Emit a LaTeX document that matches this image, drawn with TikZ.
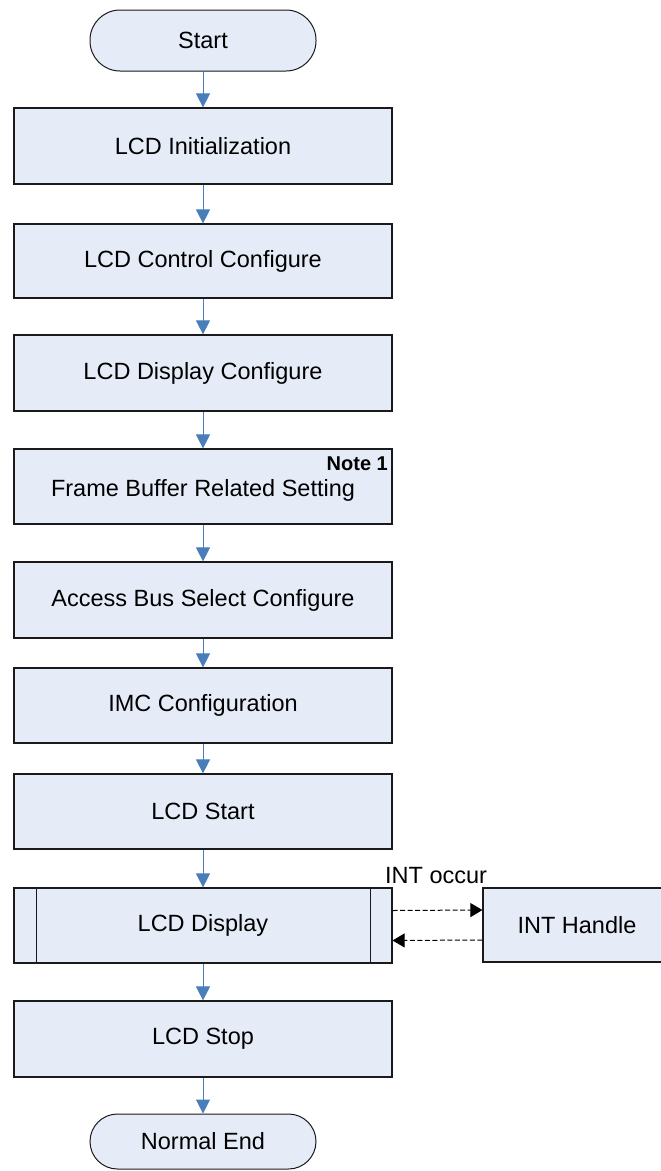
\documentclass[tikz,border=0pt]{standalone}
\usepackage{fontspec}
\setmainfont{Liberation Sans}
\usetikzlibrary{arrows.meta}
\definecolor{boxfill}{HTML}{E6ECF7}
\definecolor{flowblue}{HTML}{4A7EBB}
\definecolor{boxline}{HTML}{1A1A1A}
\begin{document}
\begin{tikzpicture}[x=1pt,y=-1pt,
 every node/.style={font=\fontsize{23.5}{28}\selectfont},
 proc/.style={draw=boxline,fill=boxfill,line width=1.2pt,minimum width=378pt,inner sep=0pt},
 term/.style={draw=boxline,fill=boxfill,line width=1pt,minimum width=226pt,minimum height=61pt,rounded corners=30pt,inner sep=0pt},
 flow/.style={draw=flowblue,line width=1pt,-{Triangle[width=14pt,length=14pt]}},
 dasharrow/.style={draw=black,line width=1pt,dash pattern=on 5pt off 2.5pt,-{Triangle[width=14pt,length=12pt]}}]
\useasboundingbox (0,0) rectangle (661,1171);
\fill[white] (0,0) rectangle (661,1171);

\node[term] (start) at (203,40.5) {Start};
\node[proc,minimum height=76pt] (init) at (203,146) {LCD Initialization};
\node[proc,minimum height=74pt] (ctrl) at (203,261) {LCD Control Configure};
\node[proc,minimum height=76pt] (dconf) at (203,373) {LCD Display Configure};
\node[proc,minimum height=75pt] (fb) at (203,486.5) {};
\node (fbtext) at (203,490) {Frame Buffer Related Setting};
\node[font=\bfseries\fontsize{20}{24}\selectfont,anchor=east,inner sep=0pt] (note) at (388,464) {Note 1};
\node[proc,minimum height=76pt] (bus) at (203,600) {Access Bus Select Configure};
\node[proc,minimum height=75pt] (imc) at (203,705.5) {IMC Configuration};
\node[proc,minimum height=75pt] (lstart) at (203,811.5) {LCD Start};
\node[proc,minimum height=75pt] (disp) at (203,925.5) {LCD Display};
\draw[boxline,line width=1pt] ([xshift=23pt]disp.north west) -- ([xshift=23pt]disp.south west);
\draw[boxline,line width=1pt] ([xshift=-22pt]disp.north east) -- ([xshift=-22pt]disp.south east);
\node[proc,minimum width=188pt,minimum height=74pt] (int) at (577,925) {INT Handle};
\node[anchor=base west,inner sep=0pt] (intlabel) at (385,883) {INT occur};
\node[proc,minimum height=76pt] (lstop) at (203,1039) {LCD Stop};
\node[term,minimum height=55pt,rounded corners=27.5pt] (endn) at (203,1141.5) {Normal End};

\draw[flow] (start.south) -- (init.north);
\draw[flow] (init.south) -- (ctrl.north);
\draw[flow] (ctrl.south) -- (dconf.north);
\draw[flow] (dconf.south) -- (fb.north);
\draw[flow] (fb.south) -- (bus.north);
\draw[flow] (bus.south) -- (imc.north);
\draw[flow] (imc.south) -- (lstart.north);
\draw[flow] (lstart.south) -- (disp.north);
\draw[flow] (disp.south) -- (lstop.north);
\draw[flow] (lstop.south) -- (endn.north);

\draw[dasharrow] ([yshift=15pt]disp.east) -- ([yshift=15pt]int.west);
\draw[dasharrow] ([yshift=-15pt]int.west) -- ([yshift=-15pt]disp.east);
\end{tikzpicture}
\end{document}
